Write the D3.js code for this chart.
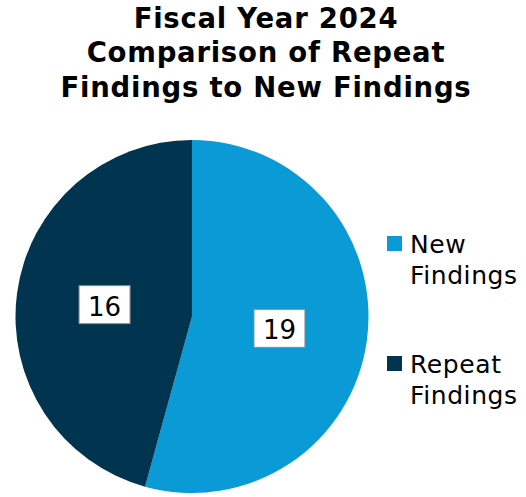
<!DOCTYPE html>
<html><head><meta charset="utf-8">
<script src="https://cdn.jsdelivr.net/npm/d3@7"></script>
<style>body{margin:0;background:#fff}svg{display:block}</style>
</head><body>
<svg id="c" width="526" height="497"></svg>
<script>
const titleLines = ["Fiscal Year 2024", "Comparison of Repeat", "Findings to New Findings"];
const categories = ["New Findings", "Repeat Findings"];
const legendLines = [["New", "Findings"], ["Repeat", "Findings"]];
const values = [19, 16];
const colors = ["#0A9AD6", "#00344F"];

const svg = d3.select("#c");
const font = "'DejaVu Sans', Verdana, sans-serif";

svg.append("g").selectAll("text").data(titleLines).join("text")
  .attr("x", 266).attr("y", (d, i) => 27.5 + i * 34.5)
  .attr("text-anchor", "middle").attr("font-family", font)
  .attr("font-weight", "bold").attr("font-size", 27.5).attr("letter-spacing", 0.75)
  .attr("fill", "#000")
  .text(d => d);

const cx = 192, cy = 316.5, r = 176.5;
const pie = d3.pie().sort(null).value(d => d);
const arc = d3.arc().innerRadius(0).outerRadius(r);
const g = svg.append("g").attr("transform", `translate(${cx},${cy})`);
const arcs = pie(values);
g.selectAll("path").data(arcs).join("path")
  .attr("d", arc).attr("fill", (d, i) => colors[i]);

const labelArc = d3.arc().innerRadius(r * 0.5).outerRadius(r * 0.5);
const lg = g.selectAll("g.lab").data(arcs).join("g").attr("class", "lab")
  .attr("transform", d => { const c = labelArc.centroid(d); return `translate(${c[0]},${c[1]})`; });
lg.append("rect").attr("x", -25.5).attr("y", -19).attr("width", 51).attr("height", 38)
  .attr("fill", "#fff").attr("stroke", "#8a8a8a").attr("stroke-width", 1);
lg.append("text").attr("text-anchor", "middle").attr("y", 11)
  .attr("font-family", font).attr("font-size", 26).attr("fill", "#000")
  .text(d => d.data);

const leg = svg.append("g").selectAll("g").data(categories).join("g")
  .attr("transform", (d, i) => `translate(387,${236 + i * 120})`);
leg.append("rect").attr("width", 15).attr("height", 15).attr("fill", (d, i) => colors[i]);
leg.each(function(d, i) {
  d3.select(this).selectAll("text").data(legendLines[i]).join("text")
    .attr("x", 23).attr("y", (t, j) => 16.5 + j * 31.5)
    .attr("font-family", font).attr("font-size", 25).attr("letter-spacing", 0.6)
    .attr("fill", "#000")
    .text(t => t);
});
</script>
</body></html>
